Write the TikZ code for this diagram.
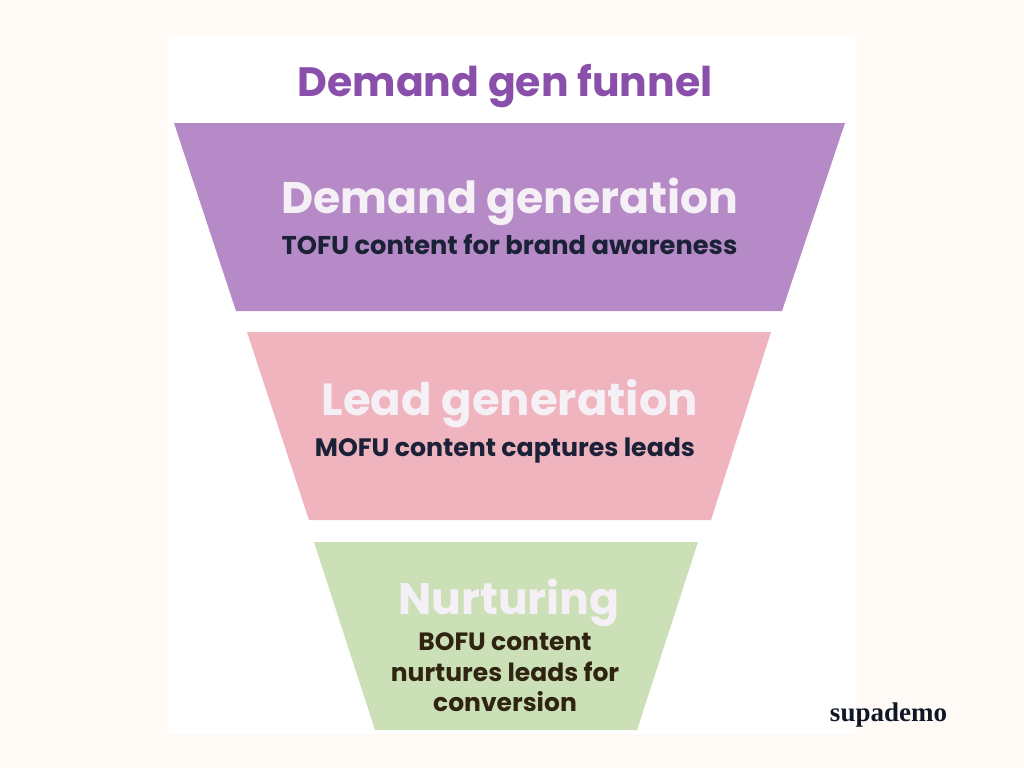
\documentclass[tikz,border=0pt]{standalone}
\usepackage{fontspec}
\setmainfont{Poppins}
\newfontfamily\logofont{Liberation Serif}
\definecolor{bgcream}{HTML}{FFFAF5}
\definecolor{titlepurple}{HTML}{8A4FAA}
\definecolor{toppurple}{HTML}{B68AC6}
\definecolor{midpink}{HTML}{EFB4BE}
\definecolor{botgreen}{HTML}{CBE0B7}
\definecolor{navytext}{HTML}{1B2238}
\definecolor{browntext}{HTML}{2F2410}
\definecolor{softwhite}{HTML}{F5F0F6}
\definecolor{logoink}{HTML}{101828}
\tikzset{
 x=1pt,y=-1pt,
 band/.style={fill=#1,draw=none},
 headtext/.style={font=\bfseries\fontsize{#1}{48}\selectfont,text=softwhite,inner sep=0pt,anchor=base},
 subtext/.style={font=\bfseries\fontsize{#1}{30.5}\selectfont,inner sep=0pt,anchor=base,align=center},
}
\begin{document}
\begin{tikzpicture}
\useasboundingbox (0,0) rectangle (1024,768);
\fill[bgcream] (0,0) rectangle (1024,768);
\fill[white] (168,36) rectangle (856,734);
\path[band=toppurple] (174,123) -- (845,123) -- (782,311) -- (236,311) -- cycle;
\path[band=midpink] (247,332) -- (771,332) -- (711,520) -- (309,520) -- cycle;
\path[band=botgreen] (314,542) -- (698,542) -- (637,730) -- (375,730) -- cycle;
\node[inner sep=0pt,anchor=base,text=titlepurple,font=\bfseries\fontsize{41}{44}\selectfont] (title) at (505,96) {Demand gen funnel};
\node[headtext=44.2] (h1) at (510,213) {Demand generation};
\node[subtext=25.7,text=navytext] (s1) at (509.5,254) {TOFU content for brand awareness};
\node[headtext=45] (h2) at (510,415) {Lead generation};
\node[subtext=25.2,text=navytext] (s2) at (505,456) {MOFU content captures leads};
\node[headtext=44.2] (h3) at (509,614) {Nurturing};
\node[subtext=25,text=browntext] (s3a) at (505,650) {BOFU content};
\node[subtext=25,text=browntext] (s3b) at (505,681) {nurtures leads for};
\node[subtext=25,text=browntext] (s3c) at (505,711) {conversion};
\node[inner sep=0pt,anchor=base,text=logoink,font=\logofont\bfseries\fontsize{27}{30}\selectfont] (logo) at (888.5,721) {supademo};
\end{tikzpicture}
\end{document}
